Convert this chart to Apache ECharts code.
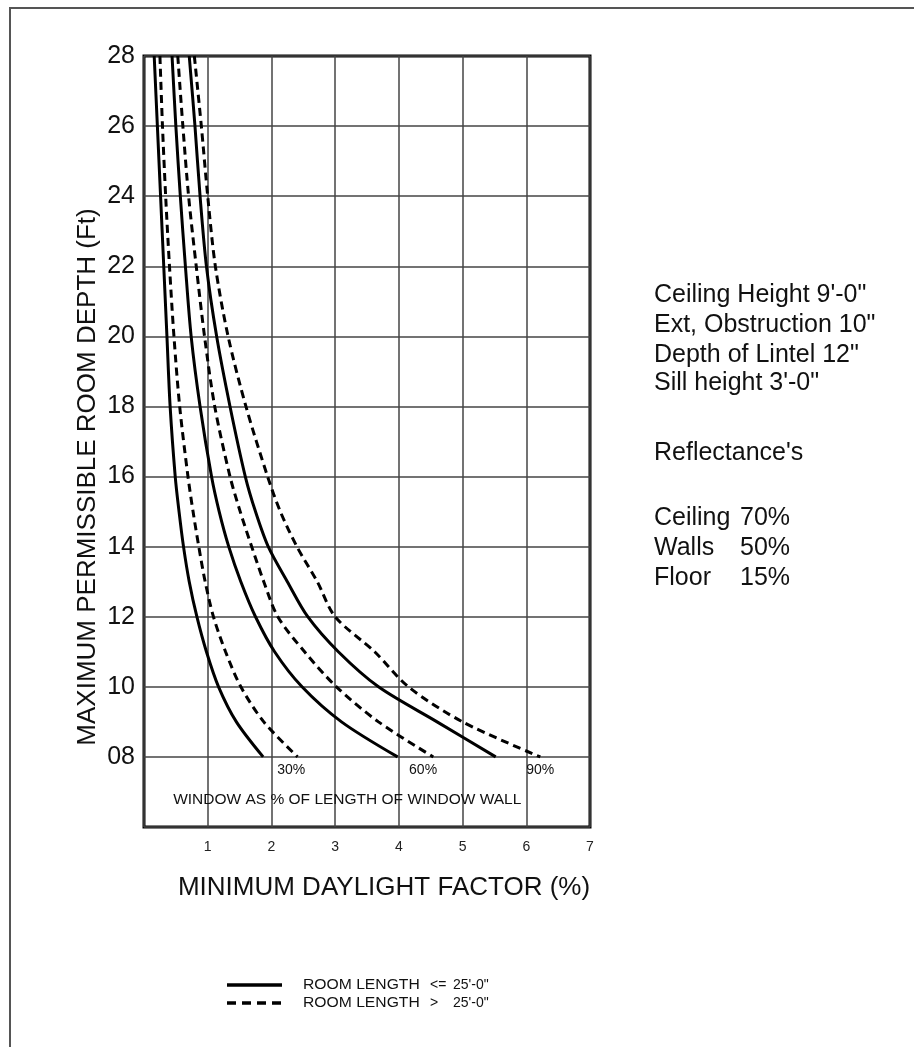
<!DOCTYPE html>
<html>
<head>
<meta charset="utf-8">
<script src="https://cdn.jsdelivr.net/npm/echarts@6/dist/echarts.min.js"></script>
<style>
html,body{margin:0;padding:0;background:#fff;}
#chart{width:914px;height:1047px;}
</style>
</head>
<body>
<div id="chart"></div>
<script>
// Room depth values (ft) at which each curve was read
const depths = [28, 26, 24, 22, 20, 18, 16, 15, 14, 13, 12, 11, 10, 9, 8];
// Minimum daylight factor (%) for each curve, matching depths
const solid30  = [0.16, 0.21, 0.26, 0.31, 0.36, 0.41, 0.49, 0.55, 0.62, 0.71, 0.83, 0.98, 1.17, 1.45, 1.87];
const dashed30 = [0.25, 0.29, 0.34, 0.40, 0.47, 0.56, 0.69, 0.77, 0.86, 0.96, 1.09, 1.28, 1.52, 1.88, 2.41];
const solid60  = [0.44, 0.50, 0.57, 0.65, 0.74, 0.88, 1.06, 1.18, 1.33, 1.52, 1.75, 2.05, 2.48, 3.10, 3.98];
const dashed60 = [0.53, 0.61, 0.70, 0.82, 0.95, 1.11, 1.35, 1.51, 1.69, 1.88, 2.10, 2.52, 3.02, 3.68, 4.54];
const solid90  = [0.71, 0.80, 0.88, 0.98, 1.14, 1.35, 1.59, 1.75, 1.95, 2.25, 2.57, 3.05, 3.68, 4.60, 5.52];
const dashed90 = [0.79, 0.90, 1.00, 1.12, 1.32, 1.60, 1.94, 2.14, 2.40, 2.72, 3.00, 3.62, 4.15, 5.00, 6.22];

const xTicks = ['', '1', '2', '3', '4', '5', '6', '7'];
const yTickLabels = {6: '', 8: '08', 10: '10', 12: '12', 14: '14', 16: '16', 18: '18', 20: '20', 22: '22', 24: '24', 26: '26', 28: '28'};

const legendLabels = ['ROOM LENGTH', 'ROOM LENGTH'];
const legendOps = ['<=', '>'];
const legendValues = ["25'-0\"", "25'-0\""];

const notes = [
  "Ceiling Height 9'-0\"",
  "Ext, Obstruction 10\"",
  "Depth of Lintel 12\"",
  "Sill height 3'-0\"",
  "Reflectance's"
];
const reflectNames = ['Ceiling', 'Walls', 'Floor'];
const reflectValues = ['70%', '50%', '15%'];

const pctLabels = [
  {text: '30%', x: 2.31, y: 7.63},
  {text: '60%', x: 4.38, y: 7.63},
  {text: '90%', x: 6.22, y: 7.63}
];
const windowLabel = {text: 'WINDOW AS % OF LENGTH OF WINDOW WALL', x: 3.19, y: 6.77};

function pairs(xs) { return xs.map((v, i) => [v, depths[i]]); }

const FONT = '"Liberation Sans", Arial, sans-serif';
const solidStyle = {color: '#000', width: 3, type: 'solid'};
const dashStyle = {color: '#000', width: 3, type: [8, 5]};

function mk(name, data, style) {
  return {
    type: 'line', name: name, data: pairs(data), smooth: 0.3,
    symbol: 'none', showSymbol: false, lineStyle: style, itemStyle: {color: '#000'},
    silent: true, animation: false, z: 3
  };
}

const chart = echarts.init(document.getElementById('chart'), null, {renderer: 'canvas'});
const option = {
  animation: false,
  backgroundColor: '#fff',
  grid: {left: 144, right: 324, top: 56, bottom: 220, show: true, borderColor: '#000', borderWidth: 3, containLabel: false},
  xAxis: {
    type: 'value', min: 0, max: 7, interval: 1,
    axisLine: {show: false}, axisTick: {show: false},
    splitLine: {show: true, lineStyle: {color: '#444', width: 1.5}},
    axisLabel: {color: '#222', fontSize: 14, fontFamily: FONT, margin: 13,
      formatter: v => xTicks[Math.round(v)] || ''}
  },
  yAxis: {
    type: 'value', min: 6, max: 28, interval: 2,
    axisLine: {show: false}, axisTick: {show: false},
    splitLine: {show: true, lineStyle: {color: '#444', width: 1.5}},
    axisLabel: {color: '#111', fontSize: 25, fontFamily: FONT, margin: 9,
      formatter: v => (yTickLabels[v] !== undefined ? yTickLabels[v] : '')}
  },
  series: [
    mk('solid 30%', solid30, solidStyle),
    mk('dashed 30%', dashed30, dashStyle),
    mk('solid 60%', solid60, solidStyle),
    mk('dashed 60%', dashed60, dashStyle),
    mk('solid 90%', solid90, solidStyle),
    mk('dashed 90%', dashed90, dashStyle)
  ]
};
chart.setOption(option);

const gfx = [];
const txt = (t, x, y, size, align, extra) => Object.assign({type: 'text', x: x, y: y, silent: true, z: 10,
  style: {text: t, fill: '#111', font: size + 'px ' + FONT, align: align || 'left', verticalAlign: 'middle'}}, extra || {});
// outer frame (left and top edges visible)
gfx.push({type: 'rect', shape: {x: 10, y: 8, width: 920, height: 1060},
  style: {fill: null, stroke: '#555', lineWidth: 2}, silent: true, z: 0});
// axis titles
gfx.push(txt('MAXIMUM PERMISSIBLE ROOM DEPTH (Ft)', 88, 477, 26, 'center', {rotation: Math.PI / 2}));
gfx.push(txt('MINIMUM DAYLIGHT FACTOR (%)', 384, 888, 26, 'center'));
// in-plot labels
pctLabels.forEach(p => {
  const pt = chart.convertToPixel({gridIndex: 0}, [p.x, p.y]);
  gfx.push(txt(p.text, pt[0], pt[1], 14, 'center'));
});
{
  const pt = chart.convertToPixel({gridIndex: 0}, [windowLabel.x, windowLabel.y]);
  gfx.push(txt(windowLabel.text, pt[0], pt[1], 15.5, 'center'));
}
// notes block
const noteY = [295, 325, 355, 383, 453];
notes.forEach((t, i) => gfx.push(txt(t, 654, noteY[i], 25)));
const reflY = [518, 548, 578];
reflectNames.forEach((t, i) => {
  gfx.push(txt(t, 654, reflY[i], 25));
  gfx.push(txt(reflectValues[i], 740, reflY[i], 25));
});
// legend
const legY = [985, 1003];
gfx.push({type: 'line', shape: {x1: 227, y1: legY[0], x2: 282, y2: legY[0]}, style: {stroke: '#000', lineWidth: 3.5}, silent: true});
gfx.push({type: 'line', shape: {x1: 227, y1: legY[1], x2: 282, y2: legY[1]}, style: {stroke: '#000', lineWidth: 3.5, lineDash: [9, 6]}, silent: true});
legendLabels.forEach((t, i) => {
  gfx.push(txt(t, 303, legY[i], 14, 'left', {scaleX: 1.12, originX: 0}));
  gfx.push(txt(legendOps[i], 430, legY[i], 14));
  gfx.push(txt(legendValues[i], 453, legY[i], 14));
});
chart.setOption({graphic: gfx});
</script>
</body>
</html>
